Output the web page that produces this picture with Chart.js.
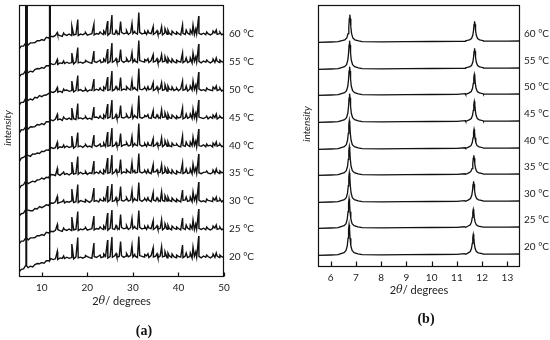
<!DOCTYPE html>
<html><head><meta charset="utf-8">
<script src="https://cdn.jsdelivr.net/npm/chart.js@4"></script>
<style>
html,body{margin:0;padding:0;background:#fff;}
#wrap{position:relative;width:550px;height:340px;overflow:hidden;}
canvas{position:absolute;top:0;}
</style></head><body>
<div id="wrap">
<canvas id="ca" width="275" height="340" style="left:0;width:275px;height:340px"></canvas>
<canvas id="cb" width="275" height="340" style="left:275px;width:275px;height:340px"></canvas>
</div>
<script>
// ---------------- data ----------------
const temperatures = [20, 25, 30, 35, 40, 45, 50, 55, 60];
const tempLabels = temperatures.map(t => t + ' °C');

// Panel (a): 2θ from 5 to 50
const tickValsA = [10, 20, 30, 40, 50];
const gridStartA = 5, gridStepA = 0.5;
const offsetsA = [20, 48, 76, 104, 131, 159, 187, 215, 243];
const baselineA = [
 -15,-13,-11.5,-9,-10,-9.5,-9,-8,-7.5,-6.5,
 -6,-5.5,-4.5,-3.5,-2.5,-2,-2,-1.5,-1.5,-1.5,
 -1,-1,-1,-1,-1,-1,-0.5,-0.5,-0.5,-0.5,
 -0.5,-0.5,-0.5,0,0,0,0,0,0,0,
 0,0,0,0.5,0.5,0.5,0.5,0.5,0.5,0.5,
 0.5,0.5,0.5,0.5,0.5,0.5,0.5,0.3,0.3,0.3,
 0.3,0.3,0.3,0.3,0.3,0,0,0,0,0,
 0,0,0,0,0,0,0,0,0,0,
 0,0,0,0,0,0,0,0,0,0,0];
const noiseA = [
 0.0,0.6,-0.4,0.8,-0.7,0.3,-0.9,0.5,1.0,-0.3,
 0.4,-0.8,0.7,-0.2,0.9,-0.6,0.2,-1.0,0.6,0.1,
 -0.5,0.8,-0.3,0.4,-0.9,1.1,-0.4,0.3,-0.7,0.6,
 0.9,-0.2,-0.8,0.5,-0.4,1.0,-0.6,0.2,0.7,-1.0,
 0.4,-0.3,1.2,-0.7,0.1,0.8,-0.9,0.5,-0.2,1.0,
 -0.6,0.3,-1.1,0.9,0.2,-0.5,0.7,-0.8,1.1,-0.3,
 0.5,-1.0,0.8,-0.1,0.6,-0.7,1.2,-0.4,0.3,-0.9,
 0.7,0.0,-0.6,1.0,-0.5,0.4,-1.1,0.8,-0.2,0.6,
 -0.8,1.0,-0.3,0.5,-0.9,0.7,-0.4,0.9,-0.6,0.3,-0.5];
const bigPeakPosA = [6.6, 11.7];
const bigPeakHeightA = [3000, 3000];
const bigPeakHalfWidthA = 0.07;
const peakPosA = [13.4, 16.6, 17.9, 21.45, 24.45, 25.4, 27.3, 29.8, 31.3, 34.45, 36.3, 40.9, 43.2, 44.45];
const peakHeightsA = [
 [7,14,20,14,17,20,15,11,20,9,10,12,10,21],
 [6,13,18,13,16,19,14,10,18,8,9,11,9,20],
 [6,13,17,13,15,17,14,10,18,8,9,11,9,19],
 [6,12,17,12,15,18,13,10,19,8,8,10,9,19],
 [5,11,14,11,14,18,12,9,22,7,8,10,9,17],
 [5,11,15,11,14,18,12,9,22,7,8,10,9,18],
 [4,10,15,11,13,19,12,9,21,7,7,9,9,18],
 [4,10,15,11,13,19,12,9,21,7,7,9,9,18],
 [3,9,15,10,13,19,12,10,21,7,7,9,9,18]];
const minorPeakPosA = [14.8, 19.6, 22.8, 23.6, 26.3, 28.6, 30.4, 32.6, 33.3, 35.3, 37.05, 37.7, 38.6, 39.6, 41.7, 42.6, 43.8, 46.2, 47.6, 48.3, 49.1];
const minorPeakHeightA = [2, 2, 2, 3, 3, 3, 2, 2, 3, 3, 5, 4, 3, 2, 4, 4, 5, 2, 3, 4, 2];

// Panel (b): 2θ from 5.5 to 13.5
const tickValsB = [6, 7, 8, 9, 10, 11, 12, 13];
const offsetsB = [12, 39, 65, 92, 118, 145, 172, 198, 225];
const baseXB = [5.5, 6.0, 6.3, 7.25, 8, 9, 10, 11, 11.35, 12.05, 13, 13.5];
const baseYB = [-0.3, 0, 0.3, 0.3, 0.2, 0.3, 0.5, 0.6, 0.7, 0.8, 0.8, 1.0];
const peakFootB = [0.3, 0.7];
const profileDX = [-0.35, -0.2, -0.12, -0.07, -0.04, -0.02, 0, 0.02, 0.04, 0.07, 0.12, 0.2, 0.35];
const profileRel = [0.03, 0.07, 0.14, 0.3, 0.55, 0.85, 1, 0.85, 0.55, 0.3, 0.14, 0.07, 0.03];
const peak1PosB = [6.73, 6.73, 6.74, 6.74, 6.74, 6.75, 6.75, 6.75, 6.76];
const peak1HB = [30, 29, 29, 28, 28, 28, 28, 28, 27];
const peak2PosB = [11.65, 11.65, 11.66, 11.67, 11.68, 11.69, 11.69, 11.70, 11.70];
const peak2HB = [20, 18, 20, 19, 19, 20, 20, 20, 20];

// ---------------- build series ----------------
function traceA(i) {
  const pts = [];
  const n = baselineA.length;
  for (let k = 0; k < n; k++) {
    pts.push({x: gridStartA + k * gridStepA, y: offsetsA[i] + baselineA[k] + noiseA[(k + 13 * i) % n]});
  }
  const addPeak = (p, h) => {
    const k = Math.round((p - gridStartA) / gridStepA);
    pts.push({x: p, y: offsetsA[i] + baselineA[k] + h});
  };
  bigPeakPosA.forEach((p, j) => {
    const k = Math.round((p - gridStartA) / gridStepA);
    const yb = offsetsA[i] + baselineA[k];
    pts.push({x: p - bigPeakHalfWidthA, y: yb});
    pts.push({x: p, y: yb + bigPeakHeightA[j]});
    pts.push({x: p + bigPeakHalfWidthA, y: yb});
  });
  peakPosA.forEach((p, j) => addPeak(p, peakHeightsA[i][j]));
  minorPeakPosA.forEach((p, j) => addPeak(p, minorPeakHeightA[j]));
  pts.sort((a, b) => a.x - b.x);
  return pts;
}
function traceB(i) {
  const pts = baseXB.map((x, k) => ({x, y: offsetsB[i] + baseYB[k]}));
  [[peak1PosB[i], peak1HB[i], peakFootB[0]], [peak2PosB[i], peak2HB[i], peakFootB[1]]].forEach(([c, h, f]) => {
    profileDX.forEach((dx, k) => pts.push({x: c + dx, y: offsetsB[i] + f + h * profileRel[k]}));
  });
  pts.sort((a, b) => a.x - b.x);
  return pts;
}

// ---------------- drawing helpers ----------------
function overlayPlugin(cfg) {
  return {
    id: 'overlay',
    afterDraw(chart) {
      const ctx = chart.ctx, a = chart.chartArea;
      const xs = chart.scales.x, ys = chart.scales.y;
      ctx.save();
      ctx.strokeStyle = '#111';
      ctx.lineWidth = 1.2;
      const L = Math.round(a.left) + 0.5, R = Math.round(a.right) - 0.5;
      const T = Math.round(a.top) + 0.5, B = Math.round(a.bottom) - 0.5;
      ctx.strokeRect(L, T, R - L, B - T);
      ctx.beginPath();
      cfg.ticks.forEach(v => {
        const x = Math.round(xs.getPixelForValue(v)) + 0.5;
        ctx.moveTo(x, B); ctx.lineTo(x, B - cfg.tickLen);
      });
      ctx.stroke();
      // temperature labels
      ctx.fillStyle = '#222';
      ctx.font = '10px Lato';
      ctx.textAlign = 'left';
      ctx.textBaseline = 'middle';
      cfg.offsets.forEach((o, i) => {
        ctx.fillText(tempLabels[i], a.right + cfg.labelDx, ys.getPixelForValue(o + cfg.labelDy));
      });
      // axis title 2θ / degrees
      const parts = [['2', '11px Lato'], ['θ', 'italic 11px "DejaVu Serif"'], ['/ degrees', '11px Lato']];
      let w = 0;
      parts.forEach(p => { ctx.font = p[1]; w += ctx.measureText(p[0]).width; });
      let x = (a.left + a.right) / 2 - w / 2;
      const ty = a.bottom + cfg.titleDy;
      parts.forEach(p => { ctx.font = p[1]; ctx.fillText(p[0], x, ty); x += ctx.measureText(p[0]).width; });
      // intensity
      ctx.save();
      ctx.translate(a.left + cfg.intX, cfg.intY);
      ctx.rotate(-Math.PI / 2);
      ctx.font = 'italic 10px Lato';
      ctx.textAlign = 'center';
      ctx.fillText('intensity', 0, 0);
      ctx.restore();
      // panel letter
      ctx.font = 'bold 14px "Liberation Serif"';
      ctx.textAlign = 'center';
      ctx.fillStyle = '#111';
      ctx.fillText(cfg.letter, cfg.letterX, cfg.letterY);
      ctx.restore();
    }
  };
}

function makeChart(id, traces, xmin, xmax, ymax, ticks, pad, axisH, bw, ov) {
  return new Chart(document.getElementById(id), {
    type: 'line',
    data: {datasets: traces.map(d => ({data: d, borderColor: '#111', borderWidth: bw, pointRadius: 0, tension: 0, fill: false}))},
    options: {
      responsive: false, animation: false, devicePixelRatio: 1, events: [],
      layout: {padding: pad},
      plugins: {legend: {display: false}, tooltip: {enabled: false}},
      scales: {
        x: {type: 'linear', min: xmin, max: xmax,
            afterBuildTicks: s => { s.ticks = ticks.map(v => ({value: v})); },
            afterFit: s => { s.height = axisH; },
            grid: {display: false, drawTicks: false}, border: {display: false},
            ticks: {font: {family: 'Lato', size: 10}, color: '#222', padding: 5, maxRotation: 0, autoSkip: false}},
        y: {display: false, min: 0, max: ymax}
      }
    },
    plugins: [overlayPlugin(ov)]
  });
}

makeChart('ca', temperatures.map((t, i) => traceA(i)), 5, 50, 272, tickValsA,
  {left: 19, right: 51, top: 5, bottom: 0}, 63, 1.4,
  {ticks: tickValsA, tickLen: 4, offsets: offsetsA, labelDx: 5, labelDy: 0, titleDy: 24,
   intX: -11, intY: 128, letter: '(a)', letterX: 144, letterY: 331});
makeChart('cb', temperatures.map((t, i) => traceB(i)), 5.5, 13.5, 262, tickValsB,
  {left: 43, right: 30, top: 5, bottom: 0}, 73, 1.3,
  {ticks: tickValsB, tickLen: 5, offsets: offsetsB, labelDx: 4, labelDy: 8, titleDy: 23,
   intX: -11, intY: 124, letter: '(b)', letterX: 151, letterY: 319});
</script>
</body></html>
